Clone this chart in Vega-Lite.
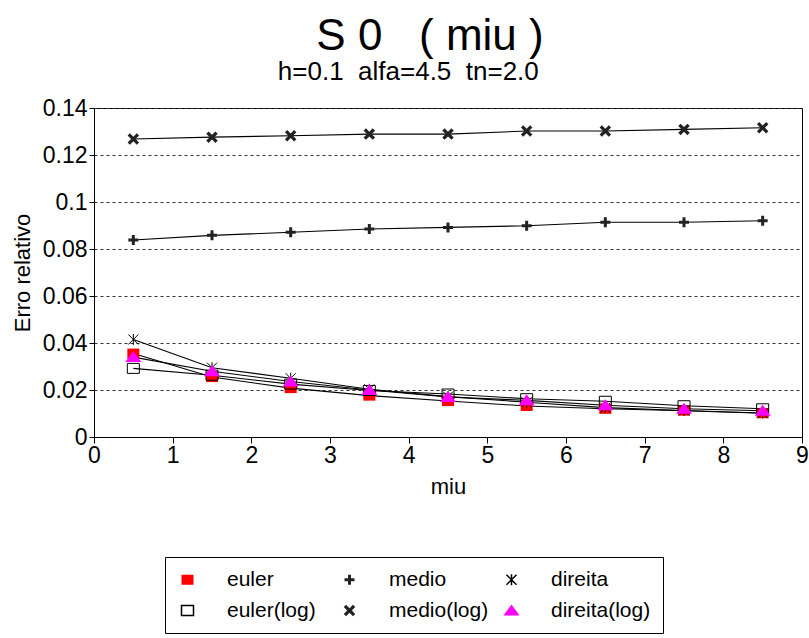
{
  "$schema": "https://vega.github.io/schema/vega-lite/v6.json",
  "autosize": "none",
  "width": 708,
  "height": 329,
  "padding": {"left": 94, "top": 108, "right": 7, "bottom": 201},
  "background": "white",
  "title": {
    "text": "S 0\u00a0\u00a0 ( miu )",
    "subtitle": "h=0.1\u00a0 alfa=4.5\u00a0 tn=2.0\u2007\u2007\u2007\u2060",
    "font": "Liberation Sans",
    "fontSize": 44,
    "fontWeight": "normal",
    "color": "black",
    "subtitleFont": "Liberation Sans",
    "subtitleFontSize": 26,
    "subtitleColor": "black",
    "subtitlePadding": 0,
    "anchor": "middle",
    "dx": -18,
    "offset": 12
  },
  "data": {
    "values": [
      {"miu": 0.5, "erro": 0.0355, "serie": "euler"},
      {"miu": 1.5, "erro": 0.0255, "serie": "euler"},
      {"miu": 2.5, "erro": 0.0208, "serie": "euler"},
      {"miu": 3.5, "erro": 0.0176, "serie": "euler"},
      {"miu": 4.5, "erro": 0.0153, "serie": "euler"},
      {"miu": 5.5, "erro": 0.0132, "serie": "euler"},
      {"miu": 6.5, "erro": 0.0120, "serie": "euler"},
      {"miu": 7.5, "erro": 0.0112, "serie": "euler"},
      {"miu": 8.5, "erro": 0.0101, "serie": "euler"},
      {"miu": 0.5, "erro": 0.0292, "serie": "euler(log)"},
      {"miu": 1.5, "erro": 0.0263, "serie": "euler(log)"},
      {"miu": 2.5, "erro": 0.0225, "serie": "euler(log)"},
      {"miu": 3.5, "erro": 0.0198, "serie": "euler(log)"},
      {"miu": 4.5, "erro": 0.0183, "serie": "euler(log)"},
      {"miu": 5.5, "erro": 0.0163, "serie": "euler(log)"},
      {"miu": 6.5, "erro": 0.0152, "serie": "euler(log)"},
      {"miu": 7.5, "erro": 0.0133, "serie": "euler(log)"},
      {"miu": 8.5, "erro": 0.0120, "serie": "euler(log)"},
      {"miu": 0.5, "erro": 0.0838, "serie": "medio"},
      {"miu": 1.5, "erro": 0.0858, "serie": "medio"},
      {"miu": 2.5, "erro": 0.0871, "serie": "medio"},
      {"miu": 3.5, "erro": 0.0885, "serie": "medio"},
      {"miu": 4.5, "erro": 0.0892, "serie": "medio"},
      {"miu": 5.5, "erro": 0.0899, "serie": "medio"},
      {"miu": 6.5, "erro": 0.0914, "serie": "medio"},
      {"miu": 7.5, "erro": 0.0914, "serie": "medio"},
      {"miu": 8.5, "erro": 0.0920, "serie": "medio"},
      {"miu": 0.5, "erro": 0.1268, "serie": "medio(log)"},
      {"miu": 1.5, "erro": 0.1276, "serie": "medio(log)"},
      {"miu": 2.5, "erro": 0.1282, "serie": "medio(log)"},
      {"miu": 3.5, "erro": 0.1289, "serie": "medio(log)"},
      {"miu": 4.5, "erro": 0.1289, "serie": "medio(log)"},
      {"miu": 5.5, "erro": 0.1302, "serie": "medio(log)"},
      {"miu": 6.5, "erro": 0.1302, "serie": "medio(log)"},
      {"miu": 7.5, "erro": 0.1309, "serie": "medio(log)"},
      {"miu": 8.5, "erro": 0.1316, "serie": "medio(log)"},
      {"miu": 0.5, "erro": 0.0415, "serie": "direita"},
      {"miu": 1.5, "erro": 0.0295, "serie": "direita"},
      {"miu": 2.5, "erro": 0.0250, "serie": "direita"},
      {"miu": 3.5, "erro": 0.0203, "serie": "direita"},
      {"miu": 4.5, "erro": 0.0172, "serie": "direita"},
      {"miu": 5.5, "erro": 0.0148, "serie": "direita"},
      {"miu": 6.5, "erro": 0.0125, "serie": "direita"},
      {"miu": 7.5, "erro": 0.0113, "serie": "direita"},
      {"miu": 8.5, "erro": 0.0102, "serie": "direita"},
      {"miu": 0.5, "erro": 0.0340, "serie": "direita(log)"},
      {"miu": 1.5, "erro": 0.0280, "serie": "direita(log)"},
      {"miu": 2.5, "erro": 0.0236, "serie": "direita(log)"},
      {"miu": 3.5, "erro": 0.0200, "serie": "direita(log)"},
      {"miu": 4.5, "erro": 0.0170, "serie": "direita(log)"},
      {"miu": 5.5, "erro": 0.0156, "serie": "direita(log)"},
      {"miu": 6.5, "erro": 0.0135, "serie": "direita(log)"},
      {"miu": 7.5, "erro": 0.0120, "serie": "direita(log)"},
      {"miu": 8.5, "erro": 0.0112, "serie": "direita(log)"}
    ]
  },
  "encoding": {
    "x": {
      "field": "miu", "type": "quantitative",
      "scale": {"domain": [0, 9], "nice": false, "zero": false},
      "axis": {
        "title": "miu",
        "values": [0, 1, 2, 3, 4, 5, 6, 7, 8, 9],
        "format": "d",
        "grid": false,
        "labelFlush": false,
        "labelOverlap": false,
        "tickSize": 6,
        "labelPadding": 1,
        "titlePadding": 9
      }
    },
    "y": {
      "field": "erro", "type": "quantitative",
      "scale": {"domain": [0, 0.14], "nice": false},
      "axis": {
        "title": "Erro relativo",
        "values": [0, 0.02, 0.04, 0.06, 0.08, 0.1, 0.12, 0.14],
        "format": ".2~f",
        "grid": true,
        "gridDash": [3, 3],
        "gridColor": "#333333",
        "gridWidth": 1,
        "labelFlush": false,
        "labelOverlap": false,
        "tickSize": 5,
        "labelPadding": 2,
        "titlePadding": 8
      }
    }
  },
  "layer": [
    {
      "mark": {"type": "line", "color": "black", "strokeWidth": 1.1},
      "encoding": {"detail": {"field": "serie"}}
    },
    {
      "mark": {"type": "point", "size": 100, "opacity": 1, "strokeWidth": 1},
      "encoding": {
        "shape": {
          "field": "serie", "type": "nominal",
          "scale": {
            "domain": ["euler", "medio", "direita", "euler(log)", "medio(log)", "direita(log)"],
            "range": [
              "M-1.2,-1H1.2V1H-1.2Z",
              "M-1,-0.3H-0.3V-1H0.3V-0.3H1V0.3H0.3V1H-0.3V0.3H-1Z",
              "M0,-1.1V1.1M-1,-1L1,1M-1,1L1,-1",
              "M-1.2,-1H1.2V1H-1.2Z",
              "M-0.69,-1.15L0,-0.46L0.69,-1.15L1.15,-0.69L0.46,0L1.15,0.69L0.69,1.15L0,0.46L-0.69,1.15L-1.15,0.69L-0.46,0L-1.15,-0.69Z",
              "M0,-1.2L1.6,1L-1.6,1Z"
            ]
          },
          "legend": {
            "title": null,
            "orient": "none",
            "legendX": 71,
            "legendY": 449,
            "direction": "horizontal",
            "columns": 3,
            "gridAlign": "all",
            "strokeColor": "black",
            "padding": 12,
            "labelFont": "Liberation Sans",
            "labelFontSize": 21,
            "labelColor": "black",
            "labelOffset": 29,
            "labelLimit": 300,
            "symbolSize": 100,
            "columnPadding": 11,
            "rowPadding": 9
          }
        },
        "fill": {
          "field": "serie", "type": "nominal",
          "scale": {
            "domain": ["euler", "medio", "direita", "euler(log)", "medio(log)", "direita(log)"],
            "range": ["#FF0000", "#222222", "transparent", "transparent", "#222222", "#FF00FF"]
          }
        },
        "stroke": {
          "field": "serie", "type": "nominal",
          "scale": {
            "domain": ["euler", "medio", "direita", "euler(log)", "medio(log)", "direita(log)"],
            "range": ["transparent", "transparent", "#000000", "#000000", "transparent", "transparent"]
          }
        }
      }
    }
  ],
  "config": {
    "font": "Liberation Sans",
    "view": {"stroke": "black", "strokeWidth": 1},
    "axis": {
      "domainColor": "black",
      "tickColor": "black",
      "labelColor": "black",
      "titleColor": "black",
      "labelFont": "Liberation Sans",
      "titleFont": "Liberation Sans",
      "labelFontSize": 23,
      "titleFontSize": 22,
      "titleFontWeight": "normal"
    }
  }
}
